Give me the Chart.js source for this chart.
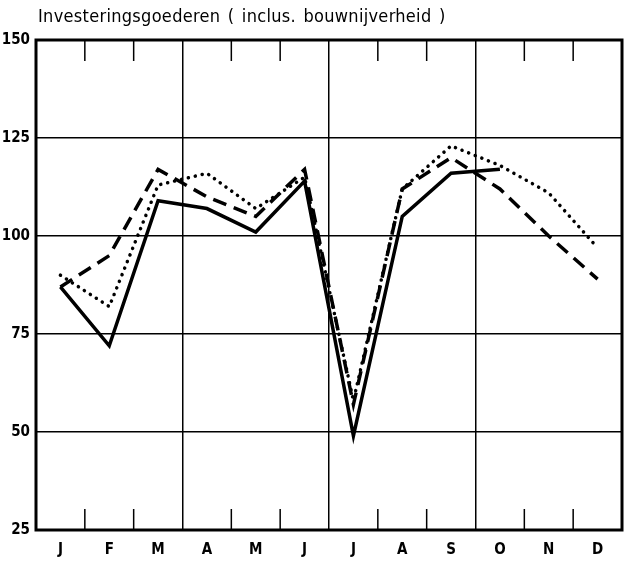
<!DOCTYPE html>
<html>
<head>
<meta charset="utf-8">
<script src="https://cdn.jsdelivr.net/npm/chart.js@4.4.0/dist/chart.umd.min.js"></script>
<style>
  html, body { margin: 0; padding: 0; background: #fff; }
  #wrap { position: relative; width: 624px; height: 562px; }
  #title {
    position: absolute; left: 38px; top: 5px;
    font-family: "Liberation Sans Narrow", "DejaVu Sans Condensed", sans-serif;
    font-size: 18px; letter-spacing: 0.3px; word-spacing: 2px; color: #000;
  }
</style>
</head>
<body>
<div id="wrap">
  <div id="title">Investeringsgoederen ( inclus. bouwnijverheid )</div>
  <canvas id="chart" width="624" height="562"></canvas>
</div>
<script>
// maanden en reeksen
const months = ['J', 'F', 'M', 'A', 'M', 'J', 'J', 'A', 'S', 'O', 'N', 'D'];
const yTicks = [25, 50, 75, 100, 125, 150];
const solidValues  = [87, 72, 109, 107, 101, 114, 49, 105, 116, 117, null, null];
const dashedValues = [87, 95, 117, 110, 105, 117, 57, 112, 120, 112, 100, 89];
const dottedValues = [90, 82, 113, 116, 107, 115, 58, 112, 123, 118, 111, 97];

const FONT = '"Liberation Sans Narrow", "DejaVu Sans Condensed", sans-serif';
const INK = '#000';

// kader + korte streepjes boven en onder tussen de maanden
const framePlugin = {
  id: 'frame',
  afterDraw(chart) {
    const { ctx, chartArea: a, scales } = chart;
    const x = scales.x;
    ctx.save();
    ctx.strokeStyle = INK;
    ctx.lineWidth = 1.5;
    for (let i = 0; i < months.length - 1; i++) {
      if ((i + 1) % 3 === 0) continue;
      const bx = (x.getPixelForValue(i) + x.getPixelForValue(i + 1)) / 2;
      ctx.beginPath();
      ctx.moveTo(bx, a.top); ctx.lineTo(bx, a.top + 21);
      ctx.moveTo(bx, a.bottom); ctx.lineTo(bx, a.bottom - 21);
      ctx.stroke();
    }
    ctx.lineWidth = 3;
    ctx.strokeRect(a.left, a.top, a.right - a.left, a.bottom - a.top);
    ctx.restore();
  }
};

new Chart(document.getElementById('chart'), {
  type: 'line',
  data: {
    labels: months,
    datasets: [
      {
        label: 'a',
        data: solidValues,
        borderColor: INK,
        borderWidth: 3.5,
        pointRadius: 0,
        tension: 0
      },
      {
        label: 'b',
        data: dashedValues,
        borderColor: INK,
        borderWidth: 3.5,
        borderDash: [14, 8],
        pointRadius: 0,
        tension: 0
      },
      {
        label: 'c',
        data: dottedValues,
        borderColor: INK,
        borderWidth: 3.5,
        borderDash: [0.1, 7],
        borderCapStyle: 'round',
        pointRadius: 0,
        tension: 0
      }
    ]
  },
  options: {
    responsive: false,
    animation: false,
    layout: { padding: { top: 40, right: 2, left: 0, bottom: 0 } },
    plugins: {
      legend: { display: false },
      title: { display: false },
      tooltip: { enabled: false }
    },
    scales: {
      x: {
        offset: true,
        grid: {
          offset: true,
          drawTicks: false,
          lineWidth: 1.5,
          color: (c) => (c.index > 0 && c.index < months.length && c.index % 3 === 0) ? INK : 'rgba(0,0,0,0)'
        },
        border: { display: false },
        ticks: {
          color: INK,
          padding: 11,
          font: { family: FONT, size: 15, weight: 'bold' },
          maxRotation: 0,
          autoSkip: false
        },
        afterFit(scale) { scale.height = 32; }
      },
      y: {
        min: 25,
        max: 150,
        afterBuildTicks(scale) { scale.ticks = yTicks.map(v => ({ value: v })); },
        grid: {
          drawTicks: false,
          lineWidth: 1.5,
          color: (c) => (c.tick && c.tick.value > 25 && c.tick.value < 150) ? INK : 'rgba(0,0,0,0)'
        },
        border: { display: false },
        ticks: {
          color: INK,
          padding: 6,
          font: { family: FONT, size: 15, weight: 'bold' }
        },
        afterFit(scale) { scale.width = 36; }
      }
    }
  },
  plugins: [framePlugin]
});
</script>
</body>
</html>
